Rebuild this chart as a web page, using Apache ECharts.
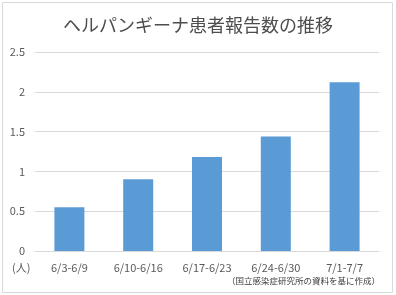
<!DOCTYPE html>
<html><head><meta charset="utf-8">
<script src="https://cdn.jsdelivr.net/npm/echarts@6/dist/echarts.min.js"></script>
<style>html,body{margin:0;padding:0;background:#fff}#c{width:396px;height:295px}</style>
</head><body><div id="c"></div>
<script>
const categories = ['6/3-6/9','6/10-6/16','6/17-6/23','6/24-6/30','7/1-7/7'];
const values = [0.55, 0.90, 1.18, 1.44, 2.12];
const yTicks = [0, 0.5, 1, 1.5, 2, 2.5];
const titleText = 'ヘルパンギーナ患者報告数の推移';
const unitText = '(人)';
const sourceText = '（国立感染症研究所の資料を基に作成）';
const font = '"Noto Sans CJK JP", sans-serif';
const chart = echarts.init(document.getElementById('c'), null, {renderer:'canvas'});
chart.setOption({
  animation:false,
  backgroundColor:'#fff',
  title:{text:titleText,left:'center',top:11,textStyle:{fontFamily:font,fontSize:18,fontWeight:'normal',color:'#4d4d4d'}},
  grid:{left:35,right:17,top:52,bottom:44},
  xAxis:{type:'category',data:categories,
    axisLine:{lineStyle:{color:'#d9d9d9'}},axisTick:{show:false},
    axisLabel:{fontFamily:font,fontSize:11,color:'#595959',margin:11}},
  yAxis:{type:'value',min:yTicks[0],max:yTicks[yTicks.length-1],interval:0.5,
    axisLine:{show:false},axisTick:{show:false},
    splitLine:{lineStyle:{color:'#d9d9d9'}},
    axisLabel:{fontFamily:font,fontSize:11,color:'#595959',margin:10}},
  series:[{type:'bar',data:values,barWidth:30,itemStyle:{color:'#5B9BD5'}}],
  graphic:[
    {type:'rect',shape:{x:2.5,y:2.5,width:390,height:290},style:{fill:'none',stroke:'#d9d9d9',lineWidth:1},silent:true},
    {type:'text',left:12,top:262,style:{text:unitText,fontFamily:font,fontSize:11,fill:'#595959'}},
    {type:'text',right:16,top:277,style:{text:sourceText,fontFamily:font,fontSize:8.5,fill:'#404040'}}
  ]
});
</script></body></html>
